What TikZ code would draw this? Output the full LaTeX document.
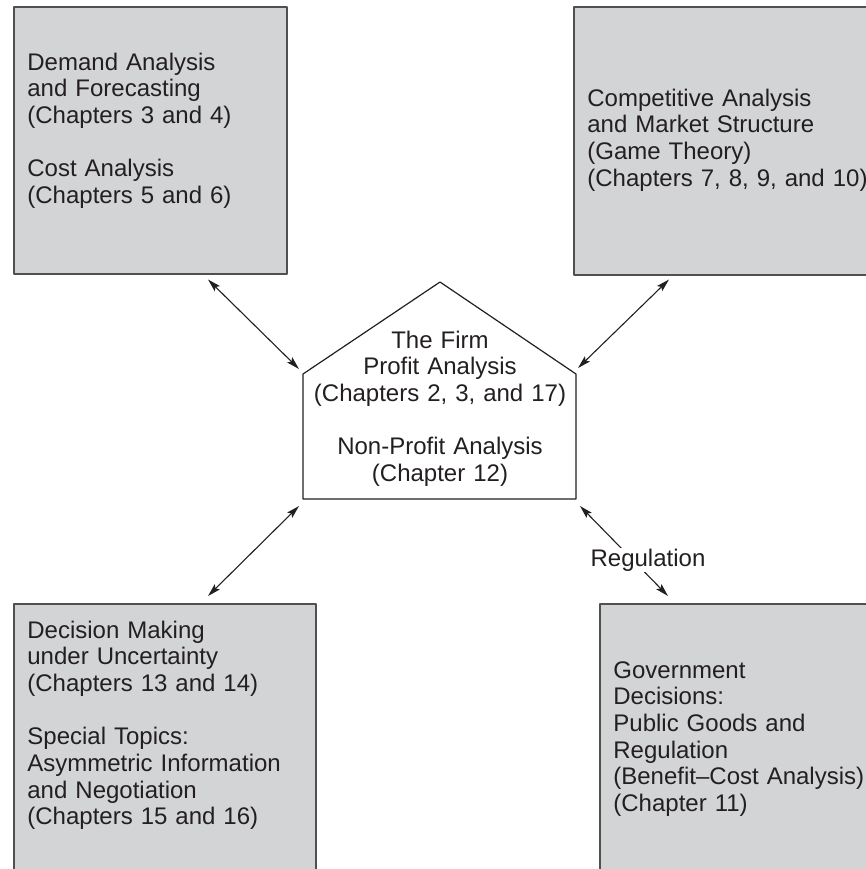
\documentclass[tikz,border=0pt]{standalone}
\usepackage{fontspec}
\setmainfont{Liberation Sans}
\usetikzlibrary{positioning, arrows.meta, calc}
\definecolor{figink}{HTML}{231F20}
\definecolor{boxline}{HTML}{505050}
\definecolor{boxfill}{HTML}{D3D4D6}

\begin{document}
\begin{tikzpicture}[
  x=0.5pt, y=-0.5pt,
  line cap=round, line join=round,
  >={Stealth[length=6.5pt, width=3.6pt, inset=1.2pt]},
  topic/.style = {draw=boxline, line width=0.75pt, fill=boxfill, rectangle,
                  anchor=north west, inner sep=0pt},
  txt/.style   = {font=\fontsize{12}{13.35}\selectfont, text=figink,
                  inner sep=0pt, anchor=base west, align=left, text width=170pt},
  house/.style = {draw=figink, line width=0.6pt, fill=white},
  link/.style  = {<->, draw=figink, line width=0.55pt},
  lbl/.style   = {font=\fontsize{12}{13.35}\selectfont, text=figink,
                  fill=white, inner sep=0.6pt}
]
\useasboundingbox (0,0) rectangle (866,869);
\clip (0,0) rectangle (866,869);

% outer boxes
\node[topic, minimum width=136.5pt, minimum height=133.5pt] (dem) at (13,6) {};
\node[topic, minimum width=160pt, minimum height=134pt] (comp) at (573,6) {};
\node[topic, minimum width=151pt, minimum height=150pt] (dec) at (13,603) {};
\node[topic, minimum width=150pt, minimum height=150pt] (gov) at (599,603) {};

\node[txt] (demtxt) at (27,70) {Demand Analysis\\and Forecasting\\(Chapters 3 and 4)\\[13.35pt]
  Cost Analysis\\(Chapters 5 and 6)};
\node[txt] (comptxt) at (587,106) {Competitive Analysis\\and Market Structure\\(Game Theory)\\
  (Chapters 7, 8, 9, and 10)};
\node[txt] (dectxt) at (27,638) {Decision Making\\under Uncertainty\\(Chapters 13 and 14)\\[13.35pt]
  Special Topics:\\Asymmetric Information\\and Negotiation\\(Chapters 15 and 16)};
\node[txt] (govtxt) at (613,678) {Government\\Decisions:\\Public Goods and\\Regulation\\
  (Benefit\textendash Cost Analysis)\\(Chapter 11)};

% the firm
\coordinate (firm-n)  at (440,282);
\coordinate (firm-w)  at (303,374);
\coordinate (firm-e)  at (576,374);
\coordinate (firm-se) at (576,499);
\coordinate (firm-sw) at (303,499);
\draw[house] (firm-sw) -- (firm-w) -- (firm-n) -- (firm-e) -- (firm-se) -- cycle;
\node[txt, anchor=base, align=center, text width=130pt] (firm) at (440,348)
  {The Firm\\Profit Analysis\\(Chapters 2, 3, and 17)\\[13.35pt]
   Non-Profit Analysis\\(Chapter 12)};

% links
\draw[link] ($(dem.south west)+(195,5)$) -- ($(firm-w)+(-4,-5)$);
\draw[link] ($(comp.south west)+(96,4)$) -- ($(firm-e)+(2,-6)$);
\draw[link] ($(firm-sw)+(-4,7)$) -- ($(dec.north west)+(195,-7)$);
\draw[link] ($(firm-se)+(4,7)$) --
  node[lbl, xshift=12pt, yshift=-4.5pt] {Regulation} ($(gov.north west)+(69,-7)$);

\end{tikzpicture}
\end{document}
